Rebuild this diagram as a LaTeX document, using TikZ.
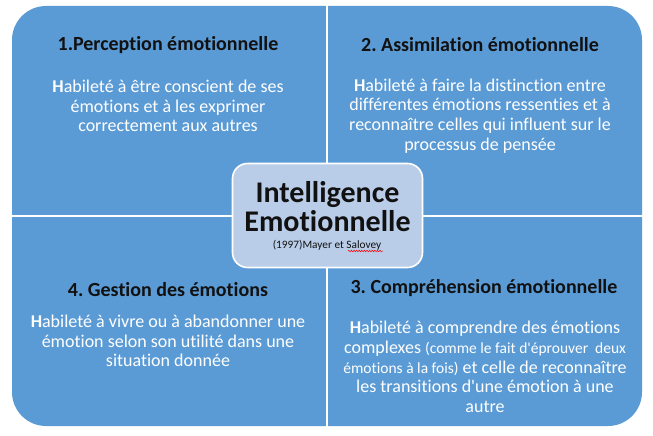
\documentclass[tikz,border=0pt]{standalone}
\usepackage{fontspec}
\setmainfont{Carlito}[Ligatures={NoCommon}]
\usetikzlibrary{decorations.pathmorphing}
\definecolor{qblue}{HTML}{5B9BD5}
\definecolor{cblue}{HTML}{B9CDE8}
\definecolor{ttl}{HTML}{111111}
\frenchspacing
\begin{document}
\begin{tikzpicture}[x=1pt,y=-1pt,
  quadtitle/.style={font=\fontsize{20}{24}\selectfont\bfseries, text=ttl, inner sep=0pt, align=center},
  quadbody/.style={font=\fontsize{18}{19.8}\selectfont, text=white, inner sep=0pt, align=center},
  centrebox/.style={draw=white, line width=1.6pt, fill=cblue, rounded corners=15pt, minimum width=190pt, minimum height=104pt, inner sep=0pt},
  divider/.style={white, line width=1.8pt}]
\useasboundingbox (0,0) rectangle (653,436);
\fill[white] (0,0) rectangle (653,436);
% outer shape
\fill[qblue, rounded corners=34pt] (12,6) rectangle (642,426);
\coordinate (vt) at (327,4);
\coordinate (vb) at (327,428);
\coordinate (hl) at (10,216);
\coordinate (hr) at (644,216);
\draw[divider] (vt) -- (vb);
\draw[divider] (hl) -- (hr);
% titles
\node[quadtitle] (t1) at (168,45) {1.Perception émotionnelle};
\node[quadtitle] (t2) at (480,45) {2. Assimilation émotionnelle};
\node[quadtitle] (t4) at (168,290) {4. Gestion des émotions};
\node[quadtitle] (t3) at (484,288) {3. Compréhension émotionnelle};
% bodies
\node[quadbody] (b1) at (168,106) {\textbf{H}abileté à être conscient de ses\\émotions et à les exprimer\\correctement aux autres};
\node[quadbody] (b2) at (480,116) {\textbf{H}abileté à faire la distinction entre\\différentes émotions ressenties et à\\reconnaître celles qui influent sur le\\processus de pensée};
\node[quadbody] (b4) at (168,341) {\textbf{H}abileté à vivre ou à abandonner une\\émotion selon son utilité dans une\\situation donnée};
\node[quadbody] (b3) at (485,367) {\textbf{H}abileté à comprendre des émotions\\complexes {\fontsize{15.5}{19.8}\selectfont(comme le fait d\textquotesingle éprouver\ \ deux}\\{\fontsize{15.5}{19.8}\selectfont émotions à la fois)} et celle de reconnaître\\les transitions d\textquotesingle une émotion à une\\autre};
% centre
\node[centrebox] (c) at (327.5,215.5) {};
\node[font=\fontsize{30}{29}\selectfont\bfseries, text=ttl, inner sep=0pt, align=center] (ct) at (327.5,207) {Intelligence\\Emotionnelle};
\node[font=\fontsize{11.3}{12}\selectfont, text=ttl, inner sep=0pt] (cs) at (327,245) {(1997)Mayer et Salovey};
\coordinate (w1) at (348,251);
\coordinate (w2) at (383,251);
\draw[red, line width=0.5pt, decorate, decoration={snake, amplitude=0.8pt, segment length=2.6pt}] (w1) -- (w2);
\end{tikzpicture}
\end{document}
